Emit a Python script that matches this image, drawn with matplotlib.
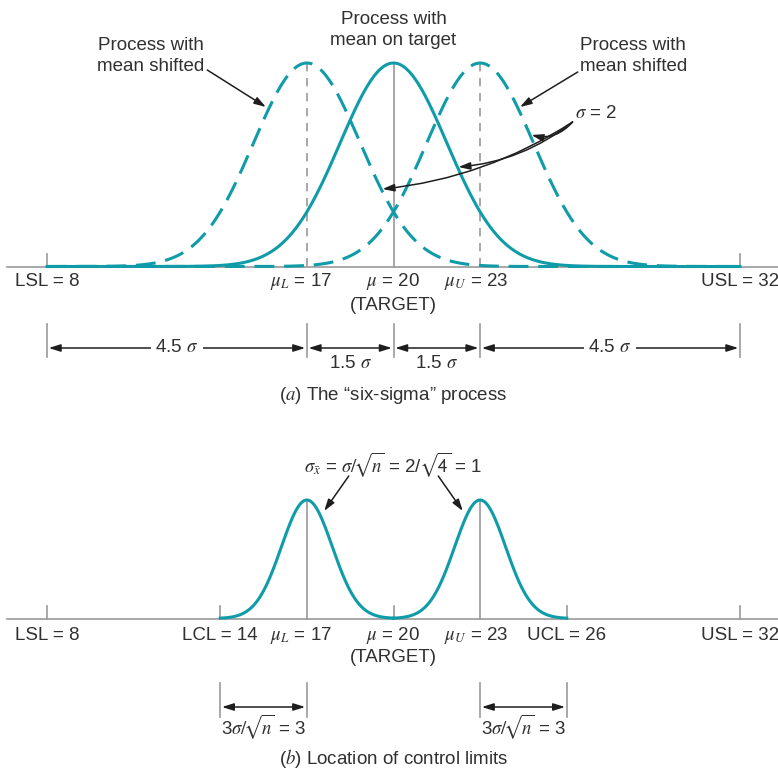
import numpy as np
import matplotlib.pyplot as plt

plt.rcParams['font.family'] = ['Liberation Sans', 'DejaVu Sans']
plt.rcParams['mathtext.fontset'] = 'stix'

# data (process units)
spec_limits = [8, 32]            # LSL, USL
target = 20
shifted_means = [17, 23]         # mu_L, mu_U
control_limits = [14, 26]        # LCL, UCL
spread_top = 1.85                # drawn width of sigma = 2 curves
spread_bottom = 0.88             # drawn width of sigma_xbar = 1 curves

teal = '#0f9ca8'
grey = '#9a9a9a'
ink = '#303030'
arrow_c = '#1e1e1e'

# layout: pixel rows for the two panels
base_a, peak_a = 266.5, 63.0
base_b, peak_b = 618.5, 500.0

fig = plt.figure(figsize=(7.78, 7.68), dpi=100)
ax = fig.add_axes([0, 0, 1, 1])
px = 28.875
ax.set_xlim(8 - 47 / px, 8 + 731 / px)
ax.set_ylim(768, 0)
ax.axis('off')


def bell(x, mu, s, base, peak):
    return base - (base - peak) * np.exp(-0.5 * ((x - mu) / s) ** 2)


fs = 13.5
sqrt_n = r'$\sigma/\!\sqrt{\!n}$'

# ---------- (a) six-sigma process ----------
xa = np.linspace(spec_limits[0], spec_limits[1], 600)
ax.plot([8 - 40 / px, 8 + 731 / px], [base_a, base_a], color=grey, lw=1.2, zorder=1)
for v in spec_limits:
    ax.plot([v, v], [base_a - 13, base_a], color=grey, lw=1.2, zorder=1)
ax.plot([target, target], [peak_a, base_a], color=grey, lw=1.2, zorder=1)
for m in shifted_means:
    ax.plot([m, m], [peak_a, base_a], color=grey, lw=1.2, ls=(0, (5, 4)), zorder=1)

ax.plot(xa, bell(xa, target, spread_top, base_a, peak_a), color=teal, lw=2.2, zorder=3)
for m in shifted_means:
    ax.plot(xa, bell(xa, m, spread_top, base_a, peak_a), color=teal, lw=2.2,
            dashes=(6.5, 3.2), zorder=3)

row_a = 282
ax.text(spec_limits[0], row_a, 'LSL = 8', ha='center', va='center', fontsize=fs, color=ink)
ax.text(spec_limits[1], row_a, 'USL = 32', ha='center', va='center', fontsize=fs, color=ink)
ax.text(shifted_means[0] - 0.2, row_a, r'$\mu_L$ = 17', ha='center', va='center', fontsize=fs, color=ink)
ax.text(target, row_a, r'$\mu$ = 20', ha='center', va='center', fontsize=fs, color=ink)
ax.text(shifted_means[1] - 0.15, row_a, r'$\mu_U$ = 23', ha='center', va='center', fontsize=fs, color=ink)
ax.text(target, 305, '(TARGET)', ha='center', va='center', fontsize=fs, color=ink)

# dimension lines
dims_a = [spec_limits[0], shifted_means[0], target, shifted_means[1], spec_limits[1]]
for v in dims_a:
    ax.plot([v, v], [324, 357], color=grey, lw=1.2)
arw = dict(arrowstyle='<|-|>,head_length=0.7,head_width=0.22', color=arrow_c, lw=1.1,
           shrinkA=0, shrinkB=0)
for a, b in zip(dims_a[:-1], dims_a[1:]):
    ax.annotate('', xy=(a + 0.06, 348), xytext=(b - 0.06, 348), arrowprops=arw)
for a, b, lab, mid in [(8, 17, '4.5 $\\sigma$', True), (17, 20, '1.5 $\\sigma$', False),
                       (20, 23, '1.5 $\\sigma$', False), (23, 32, '4.5 $\\sigma$', True)]:
    if mid:
        ax.text((a + b) / 2, 347, lab, ha='center', va='center', fontsize=fs, color=ink,
                bbox=dict(facecolor='white', edgecolor='none', pad=3))
    else:
        ax.text((a + b) / 2, 363, lab, ha='center', va='center', fontsize=fs, color=ink)

ax.text(target, 395, '($a$) The \u201csix-sigma\u201d process', ha='center', va='center',
        fontsize=fs, color=ink)

# annotations
ax.text(target, 30, 'Process with\nmean on target', ha='center', va='center', fontsize=fs,
        color=ink, linespacing=1.25)
ax.text(11.6, 56, 'Process with\nmean shifted', ha='center', va='center', fontsize=fs,
        color=ink, linespacing=1.25)
ax.text(28.3, 56, 'Process with\nmean shifted', ha='center', va='center', fontsize=fs,
        color=ink, linespacing=1.25)
head = dict(arrowstyle='-|>,head_length=0.7,head_width=0.22', color=arrow_c, lw=1.1,
            shrinkA=0, shrinkB=0)
ax.annotate('', xy=(15.58, 107), xytext=(13.55, 70), arrowprops=head)
ax.annotate('', xy=(24.38, 107), xytext=(26.38, 72), arrowprops=head)
ax.text(26.3, 114, r'$\sigma$ = 2', ha='left', va='center', fontsize=fs, color=ink)
for tx, ty, rad in [(24.78, 135, -0.3), (22.25, 167, -0.15), (19.62, 189, -0.12)]:
    ax.annotate('', xy=(tx, ty), xytext=(26.2, 122),
                arrowprops=dict(head, connectionstyle=f'arc3,rad={rad}'))

# ---------- (b) control limits ----------
ax.plot([8 - 40 / px, 8 + 731 / px], [base_b, base_b], color=grey, lw=1.2, zorder=1)
for v in [spec_limits[0], control_limits[0], target, control_limits[1], spec_limits[1]]:
    ax.plot([v, v], [base_b - 13, base_b], color=grey, lw=1.2, zorder=1)
for m, lo, hi in [(shifted_means[0], control_limits[0], target),
                  (shifted_means[1], target, control_limits[1])]:
    ax.plot([m, m], [peak_b, base_b], color=grey, lw=1.2, zorder=1)
    xb = np.linspace(lo, hi, 300)
    ax.plot(xb, bell(xb, m, spread_bottom, base_b, peak_b), color=teal, lw=2.2, zorder=3)

row_b = 635
ax.text(spec_limits[0], row_b, 'LSL = 8', ha='center', va='center', fontsize=fs, color=ink)
ax.text(control_limits[0], row_b, 'LCL = 14', ha='center', va='center', fontsize=fs, color=ink)
ax.text(shifted_means[0] - 0.2, row_b, r'$\mu_L$ = 17', ha='center', va='center', fontsize=fs, color=ink)
ax.text(target, row_b, r'$\mu$ = 20', ha='center', va='center', fontsize=fs, color=ink)
ax.text(shifted_means[1] - 0.15, row_b, r'$\mu_U$ = 23', ha='center', va='center', fontsize=fs, color=ink)
ax.text(control_limits[1], row_b, 'UCL = 26', ha='center', va='center', fontsize=fs, color=ink)
ax.text(spec_limits[1], row_b, 'USL = 32', ha='center', va='center', fontsize=fs, color=ink)
ax.text(target, 657, '(TARGET)', ha='center', va='center', fontsize=fs, color=ink)

for a, b in [(control_limits[0], shifted_means[0]), (shifted_means[1], control_limits[1])]:
    for v in (a, b):
        ax.plot([v, v], [683, 717], color=grey, lw=1.2)
    ax.annotate('', xy=(a + 0.06, 707), xytext=(b - 0.06, 707), arrowprops=arw)
    ax.text((a + b) / 2, 727, '3' + sqrt_n + ' = 3', ha='center', va='center',
            fontsize=fs, color=ink)

ax.text(target, 465, r'$\sigma_{\bar{x}}$ = ' + sqrt_n + r' = 2/$\sqrt{\!\mathsf{4}}$ = 1',
        ha='center', va='center', fontsize=fs, color=ink)
ax.annotate('', xy=(17.6, 511), xytext=(18.45, 476), arrowprops=head)
ax.annotate('', xy=(22.4, 511), xytext=(21.55, 476), arrowprops=head)

ax.text(target, 758, '($b$) Location of control limits', ha='center', va='center',
        fontsize=fs, color=ink)

fig.savefig('out.png', dpi=100)
